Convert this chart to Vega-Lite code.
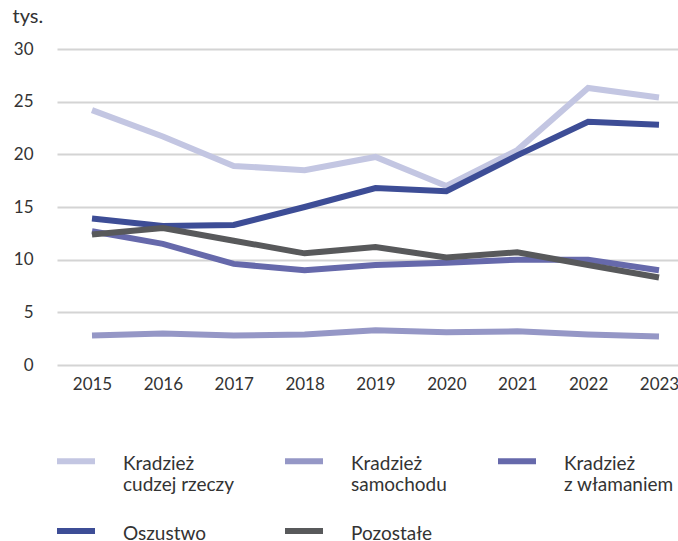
{
  "$schema": "https://vega.github.io/schema/vega-lite/v6.json",
  "width": 621,
  "height": 316,
  "autosize": {"type": "none"},
  "padding": {"left": 57, "top": 49, "right": 0, "bottom": 176},
  "background": "white",
  "config": {
    "font": "Lato",
    "view": {"stroke": null},
    "axis": {"labelFont": "Lato", "labelFontSize": 17, "labelColor": "#333333", "titleFont": "Lato"}
  },
  "data": {
    "values": [
      {"year": "2015", "series": "Kradzież cudzej rzeczy", "value": 24.2},
      {"year": "2016", "series": "Kradzież cudzej rzeczy", "value": 21.7},
      {"year": "2017", "series": "Kradzież cudzej rzeczy", "value": 18.9},
      {"year": "2018", "series": "Kradzież cudzej rzeczy", "value": 18.5},
      {"year": "2019", "series": "Kradzież cudzej rzeczy", "value": 19.75},
      {"year": "2020", "series": "Kradzież cudzej rzeczy", "value": 17.0},
      {"year": "2021", "series": "Kradzież cudzej rzeczy", "value": 20.4},
      {"year": "2022", "series": "Kradzież cudzej rzeczy", "value": 26.3},
      {"year": "2023", "series": "Kradzież cudzej rzeczy", "value": 25.4},
      {"year": "2015", "series": "Kradzież samochodu", "value": 2.8},
      {"year": "2016", "series": "Kradzież samochodu", "value": 3.0},
      {"year": "2017", "series": "Kradzież samochodu", "value": 2.8},
      {"year": "2018", "series": "Kradzież samochodu", "value": 2.9},
      {"year": "2019", "series": "Kradzież samochodu", "value": 3.3},
      {"year": "2020", "series": "Kradzież samochodu", "value": 3.1},
      {"year": "2021", "series": "Kradzież samochodu", "value": 3.2},
      {"year": "2022", "series": "Kradzież samochodu", "value": 2.9},
      {"year": "2023", "series": "Kradzież samochodu", "value": 2.7},
      {"year": "2015", "series": "Kradzież z włamaniem", "value": 12.7},
      {"year": "2016", "series": "Kradzież z włamaniem", "value": 11.5},
      {"year": "2017", "series": "Kradzież z włamaniem", "value": 9.6},
      {"year": "2018", "series": "Kradzież z włamaniem", "value": 9.0},
      {"year": "2019", "series": "Kradzież z włamaniem", "value": 9.5},
      {"year": "2020", "series": "Kradzież z włamaniem", "value": 9.7},
      {"year": "2021", "series": "Kradzież z włamaniem", "value": 10.0},
      {"year": "2022", "series": "Kradzież z włamaniem", "value": 10.0},
      {"year": "2023", "series": "Kradzież z włamaniem", "value": 9.0},
      {"year": "2015", "series": "Oszustwo", "value": 13.9},
      {"year": "2016", "series": "Oszustwo", "value": 13.2},
      {"year": "2017", "series": "Oszustwo", "value": 13.3},
      {"year": "2018", "series": "Oszustwo", "value": 15.0},
      {"year": "2019", "series": "Oszustwo", "value": 16.8},
      {"year": "2020", "series": "Oszustwo", "value": 16.5},
      {"year": "2021", "series": "Oszustwo", "value": 19.9},
      {"year": "2022", "series": "Oszustwo", "value": 23.1},
      {"year": "2023", "series": "Oszustwo", "value": 22.8},
      {"year": "2015", "series": "Pozostałe", "value": 12.4},
      {"year": "2016", "series": "Pozostałe", "value": 13.0},
      {"year": "2017", "series": "Pozostałe", "value": 11.8},
      {"year": "2018", "series": "Pozostałe", "value": 10.6},
      {"year": "2019", "series": "Pozostałe", "value": 11.2},
      {"year": "2020", "series": "Pozostałe", "value": 10.2},
      {"year": "2021", "series": "Pozostałe", "value": 10.7},
      {"year": "2022", "series": "Pozostałe", "value": 9.5},
      {"year": "2023", "series": "Pozostałe", "value": 8.3}
    ]
  },
  "mark": {"type": "line", "strokeWidth": 6, "strokeCap": "butt", "strokeJoin": "miter"},
  "encoding": {
    "x": {
      "field": "year", "type": "ordinal",
      "scale": {"type": "point", "padding": 0.381, "align": 0.648},
      "axis": {"title": null, "labelAngle": 0, "ticks": false, "domain": false, "grid": false, "labelPadding": 11}
    },
    "y": {
      "field": "value", "type": "quantitative",
      "scale": {"domain": [0, 30], "nice": false},
      "axis": {
        "values": [0, 5, 10, 15, 20, 25, 30],
        "title": "tys.", "titleAngle": 0, "titleAlign": "left", "titleBaseline": "alphabetic",
        "titleX": -45, "titleY": -27, "titleFontSize": 20, "titleFontWeight": "normal", "titleColor": "#333333",
        "ticks": false, "domain": false, "labelPadding": 24,
        "gridColor": "#d4d4d4", "gridWidth": 2
      }
    },
    "color": {
      "field": "series", "type": "nominal",
      "scale": {
        "domain": ["Kradzież cudzej rzeczy", "Kradzież samochodu", "Kradzież z włamaniem", "Oszustwo", "Pozostałe"],
        "range": ["#c3c6e2", "#9597c6", "#6669ab", "#3d4d96", "#58595b"]
      },
      "legend": {
        "title": null,
        "orient": "none",
        "legendX": -3,
        "legendY": 390,
        "direction": "horizontal",
        "columns": 3,
        "columnPadding": 39,
        "rowPadding": 14,
        "symbolType": "stroke",
        "symbolSize": 1444,
        "symbolStrokeWidth": 6,
        "labelOffset": 25,
        "labelFont": "Lato",
        "labelFontSize": 19,
        "labelColor": "#333333",
        "labelLimit": 300,
        "labelBaseline": "top",
        "labelExpr": "indexof(datum.label, 'Kradzież') == 0 ? [slice(datum.label, 0, 8), slice(datum.label, 9)] : datum.label",
        "encode": {"labels": {"update": {"dy": {"value": -6.5}}}}
      }
    }
  }
}
